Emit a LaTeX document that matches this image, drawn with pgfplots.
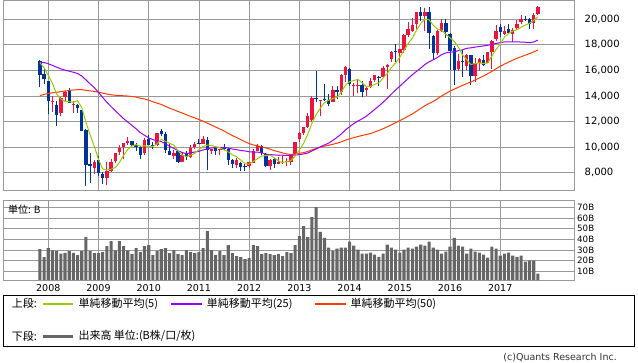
\documentclass[border=0pt]{standalone}
\usepackage{pgfplots}
\pgfplotsset{compat=1.18}
\usepackage{pgfplotstable}
\usepackage{fontspec}
\setmainfont{DejaVu Sans}
\newfontfamily\cjk{Noto Sans CJK JP}
\definecolor{upc}{RGB}{240,20,60}
\definecolor{dnc}{RGB}{0,51,153}
\definecolor{mafive}{RGB}{153,204,0}
\definecolor{matwf}{RGB}{153,0,255}
\definecolor{mafif}{RGB}{255,60,0}
\definecolor{volc}{RGB}{102,102,102}
\definecolor{gridc}{RGB}{153,153,153}

\pgfplotstableread{
x o h l c
1 13497 14031 12715 13603
3 12656 13918 12445 13850
4 13958 14390 13637 14339
6 13320 13603 12671 13377
11 8400 8983 7902 8860
14 7547 8844 7021 8110
15 8123 9050 8052 8828
16 8879 9523 8728 9523
17 9633 10170 9384 9958
18 9994 10357 9050 10357
19 10357 10767 10190 10493
23 9540 10707 9374 10546
26 10172 11097 10117 11090
30 9334 9800 9091 9537
32 8835 9630 8827 9369
34 9193 10155 9124 9937
35 9976 10394 9860 10229
37 10275 10892 10240 10624
39 9720 9850 9441 9850
41 9738 9858 9351 9816
45 8596 9152 8343 8988
48 8549 8866 8349 8803
49 8759 9866 8753 9723
50 9724 10255 9695 10084
53 8523 9034 8238 9007
55 8698 9222 8655 8840
56 8797 9288 8680 8870
57 8861 9180 8488 8928
58 8861 9492 8619 9446
59 9462 10433 9389 10395
60 10604 11191 10399 11139
61 11139 11563 10916 11559
62 11605 12650 11487 12398
63 12137 13980 12004 13861
65 13588 13716 12415 13677
68 13534 14817 13525 14456
70 14296 15727 14044 15662
71 15662 16320 15128 16291
73 14748 15000 13995 14841
74 14770 15312 14203 14828
76 14436 14683 13964 14632
77 14675 15376 14661 15162
78 15217 15646 15103 15621
80 15476 16375 15451 16174
81 16236 16533 14529 16414
82 16861 17520 16692 17460
84 17326 17711 16592 17674
85 17595 18826 17335 18798
86 18782 19778 18628 19207
87 19096 20133 19034 19520
88 19612 20563 19258 20563
90 20292 20850 19115 20585
93 17396 19160 17180 19083
94 19110 20012 18992 19747
98 16085 17291 15978 16759
100 16356 17251 16000 17235
102 15539 16938 15106 16569
103 16595 16944 15960 16887
105 16605 17461 16557 17425
106 17446 18388 16111 18308
107 18435 19592 18306 19114
109 18856 19460 18805 19119
111 18888 19290 18224 19197
112 19310 19962 19195 19651
113 19761 20318 19612 20033
116 19733 20481 19239 20356
117 20400 21050 20360 20980
}\upt

\pgfplotstableread{
x o h l c
-2 16700 16800 14670 15681
-1 15720 16100 14950 15308
0 15156 15156 12573 13592
2 13315 13570 11691 12526
5 14410 14601 13481 13481
7 13304 13370 12688 13073
8 12935 12935 11229 11260
9 11348 11411 6995 8577
10 8695 9521 7163 8512
12 8992 9325 7705 7994
13 7899 8052 7118 7568
20 10482 10500 9976 10133
21 10157 10316 9673 10035
22 10045 10087 9076 9346
24 10609 10982 10198 10198
25 10200 10400 9868 10126
27 11245 11408 10867 11057
28 11066 11155 9510 9769
29 9719 10238 9360 9383
31 9668 9668 8796 8824
33 9430 9691 9027 9202
36 10352 10621 10237 10238
38 10590 10768 8227 9755
40 9960 10017 9387 9694
42 9898 10207 9769 9833
43 9885 9960 8619 8955
44 8989 9062 8359 8700
46 8766 8799 8135 8435
47 8510 8717 8161 8455
51 10126 10190 9388 9521
52 9468 9528 8440 8543
54 9070 9136 8365 8695
64 13850 15942 13555 13775
66 13760 14953 13594 13668
67 13677 14190 13188 13389
69 14483 14799 13748 14328
72 16148 16164 14807 14915
75 14850 15164 13885 14304
79 15500 15588 14753 15425
83 17540 18030 16672 17451
89 20570 20952 19877 20236
91 20560 20946 17714 18890
92 18666 18770 16901 17388
95 19748 20012 18562 19034
96 18818 18951 16017 17518
97 17750 17905 14865 16027
99 16758 17613 15471 16666
101 17204 17235 14864 15576
104 16813 17170 16332 16450
108 19364 19615 18650 19041
110 19269 19668 18909 18909
114 20055 20230 19850 19925
115 19985 20080 19280 19646
}\dnt

\pgfplotstableread{
x m5 m25 m50
-2 16605 16605 14028
-1 16216 16622 14123
0 15621 16521 14193
1 14984 16399 14251
2 14142 16252 14286
3 13776 16124 14342
4 13582 16021 14395
5 13560 15942 14429
6 13515 15857 14472
7 13624 15761 14496
8 13106 15566 14495
9 11954 15264 14445
10 10960 14948 14399
11 10056 14652 14360
12 9041 14283 14302
13 8302 13890 14224
14 8209 13510 14158
15 8272 13172 14100
16 8405 12857 14057
17 8797 12540 14036
18 9355 12229 14018
19 9832 11959 13996
20 10093 11701 13961
21 10195 11431 13913
22 10073 11135 13828
23 10111 10930 13767
24 10052 10726 13674
25 10050 10587 13554
26 10261 10486 13443
27 10603 10428 13340
28 10448 10264 13194
29 10285 10066 13044
30 10167 9908 12925
31 9714 9726 12791
32 9376 9578 12670
33 9263 9496 12531
34 9374 9550 12407
35 9512 9619 12284
36 9795 9674 12163
37 10046 9779 12031
38 10157 9867 11878
39 10139 9936 11723
40 10032 9971 11571
41 9948 9983 11420
42 9790 9978 11259
43 9630 9922 11075
44 9400 9850 10904
45 9258 9804 10753
46 8982 9740 10586
47 8707 9704 10420
48 8676 9635 10282
49 8881 9616 10171
50 9100 9614 10100
51 9317 9551 10019
52 9335 9451 9939
53 9376 9420 9842
54 9170 9393 9729
55 8921 9365 9637
56 8791 9367 9546
57 8868 9349 9464
58 8956 9359 9427
59 9296 9377 9464
60 9756 9413 9516
61 10293 9466 9570
62 10987 9537 9658
63 11870 9702 9784
64 12546 9859 9897
65 13054 10018 9994
66 13476 10172 10077
67 13674 10314 10146
68 13793 10534 10228
69 13904 10759 10305
70 14301 11026 10415
71 14825 11341 10540
72 15130 11599 10652
73 15207 11840 10738
74 15307 12045 10830
75 15036 12213 10914
76 14704 12418 10985
77 14753 12683 11067
78 14909 12947 11184
79 15029 13216 11305
80 15403 13510 11437
81 15759 13812 11589
82 16219 14153 11751
83 16585 14473 11916
84 17035 14764 12071
85 17559 15071 12242
86 18118 15376 12421
87 18530 15661 12599
88 19152 15929 12815
89 19665 16188 13023
90 20022 16464 13241
91 19959 16673 13422
92 19532 16833 13574
93 19236 17018 13776
94 19139 17235 13997
95 18828 17370 14198
96 18554 17419 14380
97 18282 17463 14531
98 17817 17540 14690
99 17201 17614 14829
100 16841 17731 14972
101 16453 17769 15093
102 16561 17825 15254
103 16587 17875 15411
104 16543 17916 15566
105 16581 17966 15738
106 17128 18042 15927
107 17637 18108 16131
108 18068 18172 16323
109 18601 18230 16497
110 18898 18234 16652
111 19076 18234 16805
112 19183 18239 16950
113 19382 18218 17074
114 19543 18205 17197
115 19690 18168 17316
116 19922 18227 17450
117 20188 18370 17602
}\mat

\pgfplotstableread{
x v
-2 30.8
-1 23.2
0 31.8
1 29.5
2 28.9
3 26.4
4 27.3
5 28.9
6 27.3
7 25.1
8 28.9
9 42.2
10 28.9
11 27.0
12 27.0
13 28.0
14 33.6
15 38.4
16 29.6
17 38.4
18 33.6
19 29.6
20 26.0
21 31.8
22 28.0
23 33.6
24 34.6
25 25.1
26 28.9
27 30.8
28 31.8
29 27.0
30 29.9
31 26.0
32 25.1
33 29.9
34 28.0
35 27.0
36 28.0
37 31.8
38 47.9
39 29.9
40 25.1
41 28.9
42 25.1
43 34.6
44 27.0
45 24.2
46 23.2
47 21.3
48 22.3
49 34.6
50 33.6
51 26.0
52 27.0
53 26.0
54 25.1
55 26.0
56 24.2
57 28.0
58 27.0
59 34.6
60 43.1
61 52.6
62 42.2
63 61.1
64 70.6
65 47.2
66 41.5
67 32.1
68 29.0
69 31.1
70 32.1
71 32.1
72 37.8
73 34.0
74 30.2
75 26.4
76 26.4
77 27.4
78 25.5
79 23.5
80 26.4
81 34.9
82 32.1
83 30.2
84 27.4
85 30.2
86 32.1
87 31.1
88 33.0
89 34.9
90 34.0
91 37.8
92 32.1
93 30.2
94 26.4
95 28.3
96 33.0
97 41.5
98 34.0
99 33.0
100 26.4
101 31.1
102 28.3
103 27.4
104 25.5
105 22.6
106 33.0
107 31.1
108 24.5
109 26.4
110 27.4
111 24.5
112 23.5
113 24.5
114 18.8
115 19.8
116 19.8
117 7.4
}\volt

\begin{document}
\begin{tikzpicture}[x=1bp,y=1bp]
\path[use as bounding box] (0,0) rectangle (638,362);
\pgfplotsset{
  every axis/.append style={
    scale only axis, anchor=south west,
    xmin=-10.82, xmax=125.75,
    axis line style={draw=gridc, line width=0.8bp},
    grid=major, major grid style={draw=gridc, line width=0.8bp},
    tick style={draw=none}, major tick length=0pt,
    xtick={0,12,...,108},
    yticklabel pos=right,
    scaled ticks=false,
  },
  candlewick/.style={draw=none, mark=none, forget plot,
    error bars/.cd, y dir=plus, y explicit, error mark=none,
    error bar style={line width=1bp, draw=#1, solid}},
  candlebody/.style={draw=none, mark=none, forget plot,
    error bars/.cd, y dir=plus, y explicit, error mark=none,
    error bar style={line width=3.4bp, draw=#1, solid}},
}
% upper panel
\begin{axis}[
  at={(3bp,172bp)}, width=571.5bp, height=189.5bp,
  ymin=6647, ymax=21471,
  xticklabels={},
  ytick={8000,10000,12000,14000,16000,18000,20000},
  yticklabels={{8,000},{10,000},{12,000},{14,000},{16,000},{18,000},{20,000}},
  yticklabel style={anchor=west, inner sep=0pt, xshift=10bp, font=\fontsize{10bp}{12bp}\selectfont},
]
\addplot[candlewick=upc] table[x=x, y=l, y error expr=\thisrow{h}-\thisrow{l}] {\upt};
\addplot[candlewick=dnc] table[x=x, y=l, y error expr=\thisrow{h}-\thisrow{l}] {\dnt};
\addplot[candlebody=upc] table[x=x, y=o, y error expr=\thisrow{c}-\thisrow{o}] {\upt};
\addplot[candlebody=dnc] table[x=x, y=c, y error expr=\thisrow{o}-\thisrow{c}] {\dnt};
\addplot[mafif, line width=1bp, mark=none] table[x=x, y=m50] {\mat};
\addplot[matwf, line width=1bp, mark=none] table[x=x, y=m25] {\mat};
\addplot[mafive, line width=1bp, mark=none] table[x=x, y=m5] {\mat};
\end{axis}
% lower panel
\begin{axis}[
  at={(3bp,82bp)}, width=571.5bp, height=80bp,
  ymin=1.47, ymax=77.3,
  xticklabels={2008,2009,2010,2011,2012,2013,2014,2015,2016,2017},
  xticklabel style={anchor=center, inner sep=0pt, yshift=-8bp, font=\fontsize{9.5bp}{11bp}\selectfont},
  ytick={10,20,30,40,50,60,70},
  yticklabels={10B,20B,30B,40B,50B,60B,70B},
  yticklabel style={anchor=west, inner sep=0pt, xshift=2.5bp, font=\fontsize{8.7bp}{10bp}\selectfont},
]
\addplot[ybar, bar width=3.1bp, bar shift=0pt, fill=volc, draw=none] table[x=x, y=v] {\volt};
\end{axis}
\node[anchor=west, inner sep=0pt, font=\fontsize{10bp}{12bp}\selectfont] at (8,152) {\cjk 単位: B};
% legend
\draw[black, line width=1bp] (3.3,16) rectangle (634.7,66.7);
\fill[fill=mafive] (43.3,57.3) rectangle (73.3,59.3);
\fill[fill=matwf] (170.7,57.3) rectangle (201.7,59.3);
\fill[fill=mafif] (315,57.3) rectangle (346.3,59.3);
\fill[fill=volc] (43.3,24.4) rectangle (73.3,27.0);
\begin{scope}[every node/.style={anchor=west, inner sep=0pt, font=\fontsize{11bp}{13bp}\selectfont\cjk}]
\node at (11.7,58.3) {上段:};
\node at (78.3,58.3) {単純移動平均(5)};
\node at (206.7,58.3) {単純移動平均(25)};
\node at (350.3,58.3) {単純移動平均(50)};
\node at (11.7,25.7) {下段:};
\node at (78.3,25.7) {出来高 単位:(B株/口/枚)};
\end{scope}
\node[anchor=east, inner sep=0pt, font=\fontsize{9.5bp}{11bp}\selectfont, text=black!80] at (617,4) {(c)Quants Research Inc.};
\end{tikzpicture}
\end{document}
